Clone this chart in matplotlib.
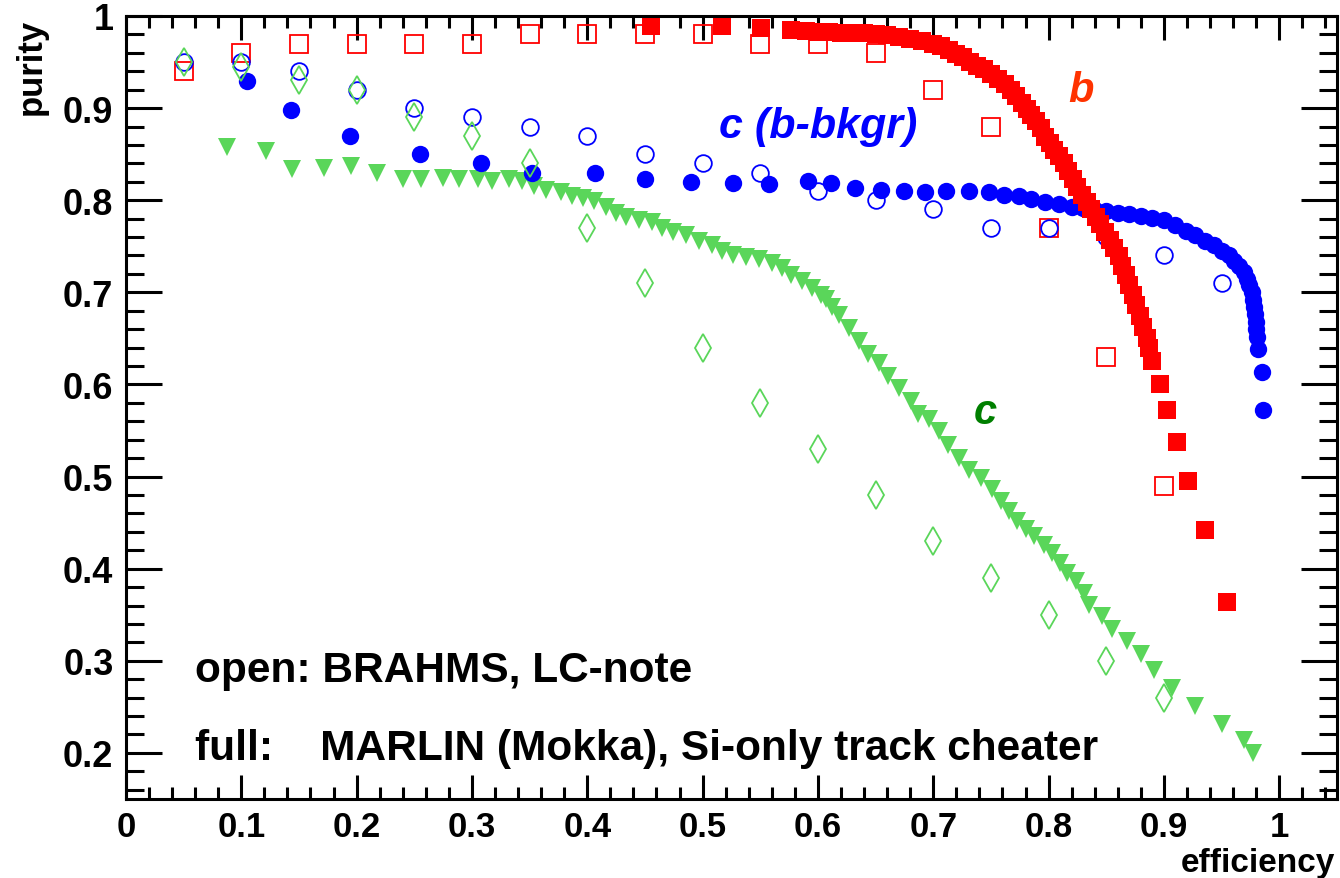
import matplotlib.pyplot as plt
from matplotlib.ticker import MultipleLocator

plt.rcParams['font.family'] = ['Liberation Sans', 'DejaVu Sans']
plt.rcParams['font.weight'] = 'bold'

# BRAHMS, LC-note (open markers), fixed efficiency grid
brahms_eff = [0.05, 0.10, 0.15, 0.20, 0.25, 0.30, 0.35, 0.40, 0.45,
              0.50, 0.55, 0.60, 0.65, 0.70, 0.75, 0.80, 0.85, 0.90, 0.95]
brahms_b = [0.94, 0.96, 0.97, 0.97, 0.97, 0.97, 0.98, 0.98, 0.98,
            0.98, 0.97, 0.97, 0.96, 0.92, 0.88, 0.77, 0.63, 0.49]
brahms_cb = [0.95, 0.95, 0.94, 0.92, 0.90, 0.89, 0.88, 0.87, 0.85,
             0.84, 0.83, 0.81, 0.80, 0.79, 0.77, 0.77, 0.76, 0.74, 0.71]
brahms_c = [0.95, 0.945, 0.93, 0.92, 0.89, 0.87, 0.84, 0.77, 0.71,
            0.64, 0.58, 0.53, 0.48, 0.43, 0.39, 0.35, 0.30, 0.26]

# MARLIN (Mokka), Si-only track cheater (full markers)
marlin_b_eff = [0.455, 0.517, 0.551, 0.577, 0.590, 0.600, 0.610, 0.620, 0.630,
                0.640, 0.650, 0.660, 0.670, 0.680, 0.690, 0.700, 0.707, 0.714,
                0.720, 0.726, 0.732, 0.738, 0.744, 0.750, 0.756, 0.762, 0.767,
                0.772, 0.777, 0.781, 0.785, 0.789, 0.793, 0.797, 0.801, 0.805,
                0.809, 0.813, 0.817, 0.821, 0.825, 0.829, 0.833, 0.837, 0.841,
                0.845, 0.849, 0.853, 0.857, 0.861, 0.864, 0.867, 0.870, 0.873,
                0.876, 0.879, 0.882, 0.885, 0.887, 0.890, 0.897, 0.903, 0.911,
                0.921, 0.936, 0.955]
marlin_b_pur = [0.989, 0.989, 0.987, 0.985, 0.984, 0.983, 0.983, 0.982, 0.982,
                0.981, 0.980, 0.979, 0.977, 0.975, 0.973, 0.970, 0.967, 0.963,
                0.959, 0.955, 0.950, 0.946, 0.942, 0.937, 0.932, 0.926, 0.920,
                0.913, 0.906, 0.899, 0.893, 0.886, 0.878, 0.869, 0.862, 0.855,
                0.848, 0.840, 0.832, 0.823, 0.814, 0.806, 0.798, 0.790, 0.782,
                0.774, 0.765, 0.757, 0.748, 0.739, 0.729, 0.719, 0.708, 0.697,
                0.686, 0.674, 0.662, 0.650, 0.640, 0.625, 0.600, 0.572, 0.538,
                0.495, 0.442, 0.364]

marlin_cb_eff = [0.105, 0.143, 0.194, 0.255, 0.308, 0.352, 0.407, 0.450, 0.490,
                 0.526, 0.558, 0.591, 0.611, 0.632, 0.655, 0.675, 0.693, 0.711,
                 0.731, 0.748, 0.761, 0.774, 0.785, 0.797, 0.809, 0.820, 0.830,
                 0.840, 0.850, 0.860, 0.870, 0.880, 0.890, 0.900, 0.910, 0.919,
                 0.927, 0.936, 0.943, 0.950, 0.956, 0.961, 0.965, 0.969, 0.972,
                 0.974, 0.976, 0.977, 0.978, 0.979, 0.980, 0.980, 0.981, 0.982,
                 0.985, 0.986]
marlin_cb_pur = [0.929, 0.898, 0.870, 0.850, 0.840, 0.829, 0.829, 0.823, 0.820,
                 0.819, 0.818, 0.821, 0.819, 0.813, 0.811, 0.810, 0.809, 0.810,
                 0.810, 0.809, 0.806, 0.805, 0.801, 0.798, 0.796, 0.793, 0.791,
                 0.789, 0.788, 0.786, 0.785, 0.783, 0.781, 0.778, 0.773, 0.767,
                 0.762, 0.756, 0.751, 0.745, 0.740, 0.734, 0.729, 0.722, 0.715,
                 0.708, 0.700, 0.692, 0.684, 0.676, 0.668, 0.660, 0.652, 0.639,
                 0.613, 0.572]

marlin_c_eff = [0.088, 0.121, 0.144, 0.172, 0.195, 0.218, 0.240, 0.256, 0.275,
                0.289, 0.305, 0.317, 0.332, 0.343, 0.354, 0.364, 0.377, 0.387,
                0.396, 0.406, 0.416, 0.425, 0.434, 0.445, 0.456, 0.465, 0.474,
                0.486, 0.497, 0.508, 0.517, 0.526, 0.538, 0.549, 0.560, 0.569,
                0.577, 0.586, 0.595, 0.603, 0.607, 0.612, 0.618, 0.627, 0.636,
                0.643, 0.653, 0.661, 0.670, 0.681, 0.687, 0.696, 0.705, 0.713,
                0.722, 0.731, 0.741, 0.751, 0.759, 0.766, 0.773, 0.780, 0.787,
                0.796, 0.803, 0.810, 0.816, 0.824, 0.831, 0.835, 0.846, 0.855,
                0.868, 0.880, 0.891, 0.907, 0.927, 0.950, 0.969, 0.977]
marlin_c_pur = [0.858, 0.853, 0.834, 0.835, 0.837, 0.829, 0.823, 0.823, 0.824,
                0.823, 0.823, 0.821, 0.823, 0.821, 0.815, 0.811, 0.809, 0.805,
                0.802, 0.799, 0.793, 0.786, 0.782, 0.778, 0.776, 0.770, 0.766,
                0.762, 0.756, 0.751, 0.745, 0.740, 0.738, 0.736, 0.732, 0.726,
                0.719, 0.712, 0.705, 0.697, 0.693, 0.684, 0.675, 0.661, 0.647,
                0.633, 0.623, 0.609, 0.596, 0.582, 0.568, 0.562, 0.549, 0.534,
                0.520, 0.507, 0.498, 0.487, 0.474, 0.463, 0.452, 0.443, 0.436,
                0.426, 0.417, 0.406, 0.395, 0.387, 0.374, 0.361, 0.349, 0.335,
                0.322, 0.307, 0.290, 0.271, 0.251, 0.231, 0.214, 0.200]

red = '#ff0000'
blue = '#0000ff'
green = '#5ad65a'

fig = plt.figure(figsize=(13.4, 8.79), dpi=100)
ax = fig.add_axes([0.094, 0.0899, 0.9037, 0.8908])

ax.plot(marlin_c_eff, marlin_c_pur, 'v', color=green, ms=12.5, mew=0, clip_on=False)
ax.plot(marlin_cb_eff, marlin_cb_pur, 'o', color=blue, ms=12.5, mew=0, clip_on=False)
ax.plot(brahms_eff[:len(brahms_b)], brahms_b, 's', mfc='none', mec=red, ms=12.5, mew=1.3, clip_on=False)
ax.plot(brahms_eff, brahms_cb, 'o', mfc='none', mec=blue, ms=12, mew=1.3, clip_on=False)
ax.plot(brahms_eff[:len(brahms_c)], brahms_c, 'd', mfc='none', mec=green, ms=14, mew=1.3, clip_on=False)
ax.plot(marlin_b_eff, marlin_b_pur, 's', color=red, ms=12.5, mew=0, clip_on=False)

ax.set_xlim(0, 1.05)
ax.set_ylim(0.15, 1.0)
ax.xaxis.set_minor_locator(MultipleLocator(0.02))
ax.yaxis.set_minor_locator(MultipleLocator(0.02))
ax.set_xticks([0, 0.1, 0.2, 0.3, 0.4, 0.5, 0.6, 0.7, 0.8, 0.9, 1.0])
ax.set_xticklabels(['0', '0.1', '0.2', '0.3', '0.4', '0.5', '0.6', '0.7', '0.8', '0.9', '1'])
ax.set_yticks([0.2, 0.3, 0.4, 0.5, 0.6, 0.7, 0.8, 0.9, 1.0])
ax.set_yticklabels(['0.2', '0.3', '0.4', '0.5', '0.6', '0.7', '0.8', '0.9', '1'])

for s in ax.spines.values():
    s.set_linewidth(2.2)
ax.tick_params(axis='both', which='both', direction='in', top=True, right=True, width=2.2)
ax.tick_params(axis='x', which='major', length=17, pad=8, labelsize=25)
ax.tick_params(axis='x', which='minor', length=8.5)
ax.tick_params(axis='y', which='major', length=26, pad=9, labelsize=26)
ax.tick_params(axis='y', which='minor', length=13)
for lab in ax.get_xticklabels() + ax.get_yticklabels():
    lab.set_fontweight('bold')

fig.text(0.023, 0.979, 'purity', rotation=90, ha='center', va='top', fontsize=25, fontweight='bold')
fig.text(0.996, 0.008, 'efficiency', ha='right', va='baseline', fontsize=24, fontweight='bold')

ax.text(0.817, 0.908, 'b', color='#ff3300', fontsize=30, fontweight='bold', style='italic')
ax.text(0.514, 0.869, 'c (b-bkgr)', color=blue, fontsize=31, fontweight='bold', style='italic')
ax.text(0.735, 0.558, 'c', color='#007f00', fontsize=30, fontweight='bold', style='italic')
ax.text(0.060, 0.278, 'open: BRAHMS, LC-note', fontsize=30.5, fontweight='bold')
ax.text(0.060, 0.193, 'full:    MARLIN (Mokka), Si-only track cheater', fontsize=30.5, fontweight='bold')

fig.savefig('out.png', dpi=100)
